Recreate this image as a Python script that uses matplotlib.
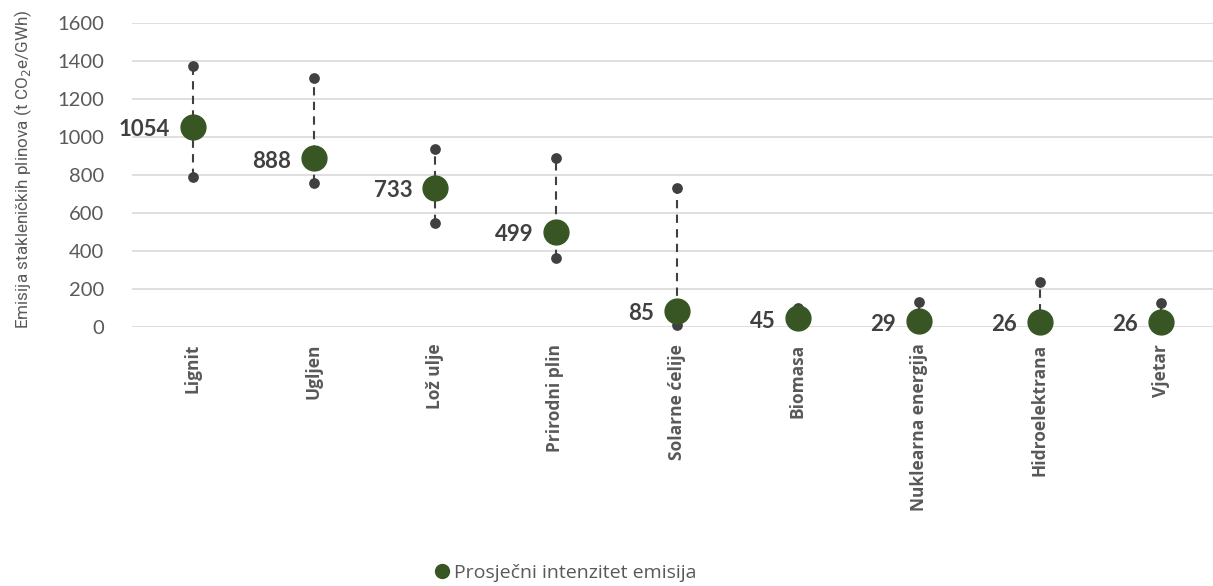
import matplotlib
matplotlib.use("Agg")
import matplotlib.pyplot as plt
from matplotlib.lines import Line2D

plt.rcParams['font.family'] = ['Lato', 'DejaVu Sans']

categories = ["Lignit", "Ugljen", "Lož ulje", "Prirodni plin", "Solarne ćelije",
              "Biomasa", "Nuklearna energija", "Hidroelektrana", "Vjetar"]
mean_vals = [1054, 888, 733, 499, 85, 45, 29, 26, 26]
max_vals = [1372, 1312, 935, 890, 730, 102, 130, 237, 124]
min_vals = [790, 756, 548, 363, 13, 18, 2, 2, 6]
yticks = [0, 200, 400, 600, 800, 1000, 1200, 1400, 1600]

fig = plt.figure(figsize=(12.13, 5.86), dpi=100)
ax = fig.add_axes([132/1213, 259/586, 1089/1213, (327-23)/586])

x = list(range(len(categories)))
dark = "#404040"
gray = "#595959"
green = "#375623"
osans = ['Open Sans', 'DejaVu Sans']
roboto = ['Roboto', 'DejaVu Sans']

for i in x:
    ax.plot([i, i], [min_vals[i], max_vals[i]], linestyle=(0, (4, 3)), color=dark, lw=1.5, zorder=2)
ax.scatter(x, max_vals, s=45, color=dark, zorder=3, clip_on=False)
ax.scatter(x, min_vals, s=45, color=dark, zorder=3, clip_on=False)
ax.scatter(x, mean_vals, s=320, color=green, zorder=4, clip_on=False)

for i in x:
    ax.annotate(str(mean_vals[i]), (i, mean_vals[i]), xytext=(-16, -2), textcoords="offset points",
                ha="right", va="center", fontsize=16, fontweight="bold", color=dark)

ax.set_xlim(-0.5, 8.5)
ax.set_ylim(0, 1600)
ax.set_yticks(yticks)
ax.set_yticklabels([str(t) for t in yticks], fontsize=14.5, color=gray)
ax.set_xticks(x)
ax.set_xticklabels(categories, rotation=90, fontsize=12.5, fontweight="bold", color=gray,
                   family=osans)
ax.tick_params(axis="y", length=0, pad=20)
ax.tick_params(axis="x", length=0, pad=12)
ax.grid(axis="y", color="#d9d9d9", lw=1.2)
ax.set_axisbelow(True)
for s in ax.spines.values():
    s.set_visible(False)

fig.text(23/1213, (586-169)/586, "Emisija stakleničkih plinova (t CO$_2$e/GWh)",
         rotation=90, ha="center", va="center", fontsize=12.3, color=gray, family=roboto)

handle = Line2D([], [], marker="o", linestyle="", color=green, markersize=10)
fig.legend([handle], ["Prosječni intenzitet emisija"], loc="center", bbox_to_anchor=(0.466, (586-573)/586),
           frameon=False, labelcolor=gray, handlelength=0.8, handletextpad=0.25,
           prop={'family': osans, 'size': 14})

fig.savefig("out.png", dpi=100)
